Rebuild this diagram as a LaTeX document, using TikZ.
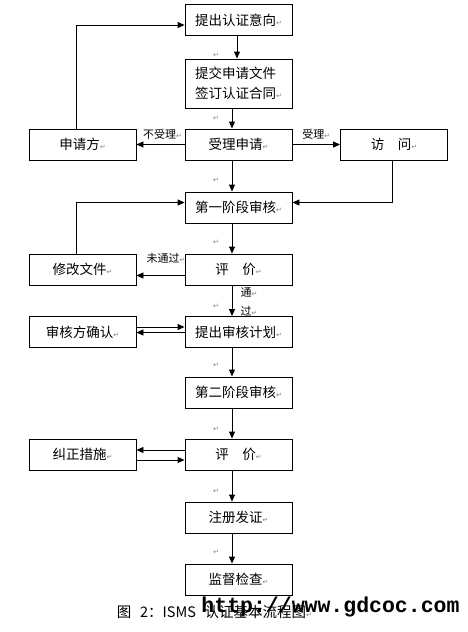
\documentclass[tikz,border=0pt]{standalone}
\usepackage{fontspec}
\setmainfont{Noto Sans CJK SC}
\newfontfamily\dejavu{DejaVu Sans}
\newfontfamily\wmfont{Liberation Mono}
\usepackage{tikz}
\usetikzlibrary{positioning}
\usetikzlibrary{%
  calc,%
  arrows.meta%
}
\newcommand{\crmk}{{\dejavu\color{gray}\fontsize{7}{8}\selectfont ↵}}

\begin{document}
\begin{tikzpicture}[x=1pt, y=-1pt, line width=0.9pt,
  >={Triangle[length=7pt,width=6pt]},
  stage/.style={draw, minimum width=107pt, minimum height=31pt, inner sep=0pt,
    font=\fontsize{13.5}{20}\selectfont},
  lbl/.style={font=\fontsize{11}{13}\selectfont, inner sep=1pt}]
\useasboundingbox (0,0) rectangle (467,632);

\node[stage] (intent) at (238.5,20) {提出认证意向\crmk};
\node[stage, minimum height=49pt, align=left] (submit) at (238.5,83.5) {提交申请文件\\签订认证合同\crmk};
\node[stage] (accept) at (238.5,144.5) {受理申请\crmk};
\node[stage] (applicant) at (82.5,144.5) {申请方\crmk};
\node[stage] (visit) at (394,144.5) {访\hspace{1em}问\crmk};
\node[stage] (stage1) at (238.5,207.5) {第一阶段审核\crmk};
\node[stage] (eval1) at (238.5,269.5) {评\hspace{1em}价\crmk};
\node[stage] (revise) at (82.5,269.5) {修改文件\crmk};
\node[stage] (plan) at (238.5,332) {提出审核计划\crmk};
\node[stage] (confirm) at (82.5,332) {审核方确认\crmk};
\node[stage] (stage2) at (238.5,392.5) {第二阶段审核\crmk};
\node[stage] (eval2) at (238.5,454.5) {评\hspace{1em}价\crmk};
\node[stage] (fix) at (82.5,454.5) {纠正措施\crmk};
\node[stage] (cert) at (238.5,517.5) {注册发证\crmk};
\node[stage] (watch) at (238.5,579.5) {监督检查\crmk};

\coordinate (ax) at (232,0);
\coordinate (ax1) at (237,0);

\draw
	(intent.south -| ax1) edge[->] (submit.north -| ax1)
	(submit.south -| ax) edge[->] (accept.north -| ax)
	(accept.south -| ax) edge[->] (stage1.north -| ax)
	(stage1.south -| ax) edge[->] (eval1.north -| ax)
	(eval1.south -| ax) edge[->] (plan.north -| ax)
	(plan.south -| ax) edge[->] (stage2.north -| ax)
	(stage2.south -| ax) edge[->] (eval2.north -| ax)
	(eval2.south -| ax) edge[->] (cert.north -| ax)
	(cert.south -| ax) edge[->] (watch.north -| ax)
	(accept) edge[->] node[lbl, above=4pt, xshift=2pt]{不受理\crmk} (applicant)
	(accept) edge[->] node[lbl, above=4pt]{受理\crmk} (visit)
	([yshift=-6pt]eval1.west) edge[->] ([yshift=-6pt]revise.east)
	([yshift=5pt]confirm.east) edge[->] ([yshift=5pt]plan.west)
	([yshift=-0.5pt]plan.west) edge[->] ([yshift=-0.5pt]confirm.east)
	([yshift=4.5pt]eval2.west) edge[->] ([yshift=4.5pt]fix.east)
	([yshift=-5.5pt]fix.east) edge[->] ([yshift=-5.5pt]eval2.west)
;
\draw[->] ([xshift=-6pt]applicant.north) |- ([yshift=-5pt]intent.west);
\draw[->] ([xshift=-2pt]visit.south) |- ([yshift=5pt]stage1.east);
\draw[->] ([xshift=-6pt]revise.north) |- ([yshift=5pt]stage1.west);

\node[lbl] (nopass) at (166,258) {未通过\crmk};
\node[lbl] (pass1) at (249,292) {通\crmk};
\node[lbl] (pass2) at (249,311) {过\crmk};

% Word paragraph marks
\foreach \y in {55,118,180,242,306,365,429,491,552}
  \node[inner sep=0pt] at (216,\y) {\crmk};

\node[font=\fontsize{14.5}{16}\selectfont] (caption) at (214.5,612) {图\hspace{0.6em}2：ISMS\hspace{0.6em}认证基本流程图\crmk};
\node[anchor=base west, inner sep=0pt, font=\wmfont\bfseries\fontsize{21.5}{24}\selectfont] (mark) at (201,612) {http://www.gdcoc.com};
\end{tikzpicture}
\end{document}
